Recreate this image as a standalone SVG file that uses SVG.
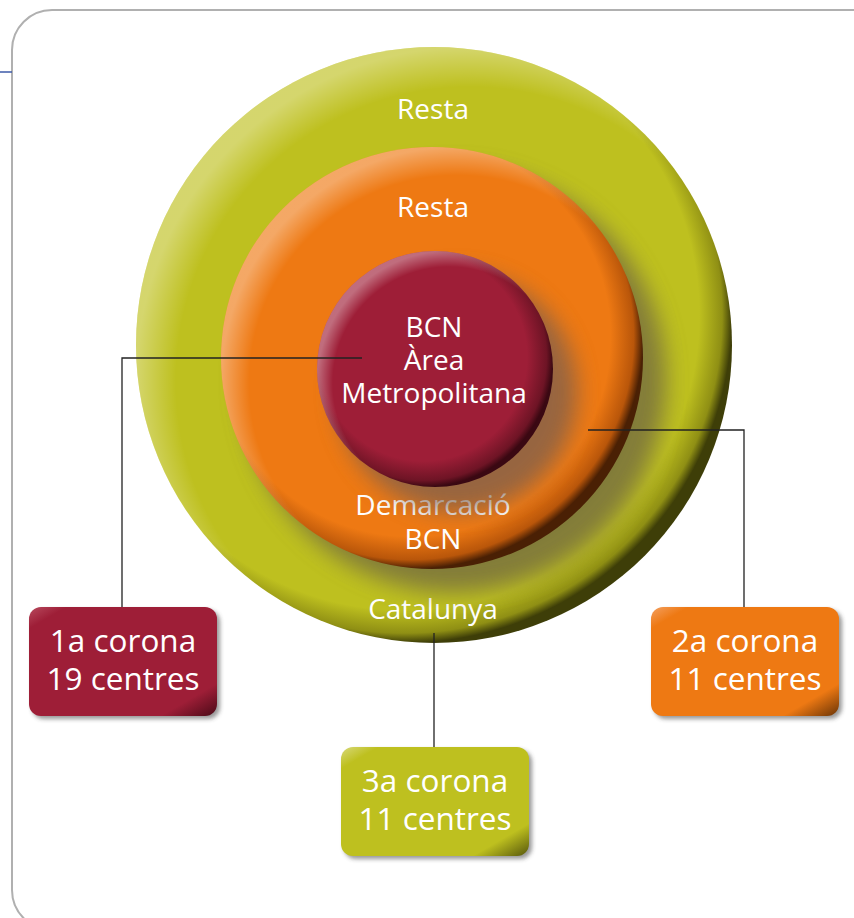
<svg xmlns="http://www.w3.org/2000/svg" width="854" height="918" viewBox="0 0 854 918">
<style>
.lbl{font-family:"Open Sans","Noto Sans",sans-serif;fill:#fff;text-anchor:middle}
.c{font-size:28px}
.b{font-size:31.5px}
.conn{fill:none;stroke:#222;stroke-width:1.3}
</style>
<defs>
<filter id="sh" x="-20%" y="-20%" width="150%" height="150%"><feGaussianBlur stdDeviation="11"/></filter>
<filter id="bsh" x="-20%" y="-20%" width="140%" height="140%"><feGaussianBlur stdDeviation="2"/></filter>
<radialGradient id="gG" cx="0.45" cy="0.45" r="0.55">
<stop offset="0.9" stop-color="#bec01f"/><stop offset="0.97" stop-color="#8f8f14"/><stop offset="1" stop-color="#3e3e08"/>
</radialGradient>
<radialGradient id="gO" cx="0.45" cy="0.45" r="0.55">
<stop offset="0.86" stop-color="#ee7913"/><stop offset="0.96" stop-color="#b9560a"/><stop offset="1" stop-color="#4a2004"/>
</radialGradient>
<radialGradient id="gR" cx="0.45" cy="0.45" r="0.55">
<stop offset="0.8" stop-color="#9e1e37"/><stop offset="0.95" stop-color="#6e1425"/><stop offset="1" stop-color="#3a0812"/>
</radialGradient>
<radialGradient id="hi" cx="0.56" cy="0.56" r="0.56">
<stop offset="0.88" stop-color="#fff" stop-opacity="0"/><stop offset="1" stop-color="#fff" stop-opacity="0.35"/>
</radialGradient>
<linearGradient id="bR" x1="0" y1="0" x2="1" y2="1"><stop offset="0" stop-color="#b84a5e"/><stop offset="0.1" stop-color="#9e1e37"/><stop offset="0.85" stop-color="#9e1e37"/><stop offset="1" stop-color="#4a0a17"/></linearGradient>
<linearGradient id="bO" x1="0" y1="0" x2="1" y2="1"><stop offset="0" stop-color="#f4a060"/><stop offset="0.1" stop-color="#ee7913"/><stop offset="0.85" stop-color="#ee7913"/><stop offset="1" stop-color="#6a3406"/></linearGradient>
<linearGradient id="bG" x1="0" y1="0" x2="1" y2="1"><stop offset="0" stop-color="#d8d97a"/><stop offset="0.1" stop-color="#bec01f"/><stop offset="0.85" stop-color="#bec01f"/><stop offset="1" stop-color="#56560c"/></linearGradient>
</defs>
<rect width="854" height="918" fill="#fff"/>
<rect x="12" y="10" width="880" height="920" rx="40" fill="#fff" stroke="#b0b0b0" stroke-width="2"/>
<line x1="0" y1="72" x2="12" y2="72" stroke="#3d5aa8" stroke-width="1.5"/>

<g id="ring3">
<circle cx="434" cy="345" r="298" fill="url(#gG)"/>
<circle cx="434" cy="345" r="298" fill="url(#hi)"/>
<text class="lbl c" x="433" y="119">Resta</text>
<text class="lbl c" x="433" y="619">Catalunya</text>
</g>
<g id="ring2">
<circle cx="454" cy="380" r="212" fill="#6b6045" opacity="0.7" filter="url(#sh)"/>
<circle cx="432" cy="358" r="211" fill="url(#gO)"/>
<circle cx="432" cy="358" r="211" fill="url(#hi)"/>
<text class="lbl c" x="433" y="217">Resta</text>
<text class="lbl c" x="433" y="515">Demarcació</text>
<text class="lbl c" x="433" y="549">BCN</text>
</g>
<g id="ring1">
<circle cx="457" cy="392" r="120" fill="#7a5f50" opacity="0.75" filter="url(#sh)"/>
<circle cx="435" cy="369" r="118" fill="url(#gR)"/>
<circle cx="435" cy="369" r="118" fill="url(#hi)"/>
<text class="lbl c" x="434" y="337">BCN</text>
<text class="lbl c" x="434" y="370">Àrea</text>
<text class="lbl c" x="434" y="403">Metropolitana</text>
</g>

<g id="connectors">
<polyline class="conn" points="362,358 122,358 122,607"/>
<polyline class="conn" points="588,430 744,430 744,607"/>
<polyline class="conn" points="434,633 434,747"/>
</g>

<g id="box1">
<rect x="32" y="610" width="188" height="109" rx="12" fill="#333" opacity="0.5" filter="url(#bsh)"/>
<rect x="29" y="607" width="188" height="109" rx="12" fill="url(#bR)"/>
<text class="lbl b" x="123" y="652">1a corona</text>
<text class="lbl b" x="123" y="690">19 centres</text>
</g>
<g id="box2">
<rect x="654" y="610" width="188" height="109" rx="12" fill="#333" opacity="0.5" filter="url(#bsh)"/>
<rect x="651" y="607" width="188" height="109" rx="12" fill="url(#bO)"/>
<text class="lbl b" x="745" y="652">2a corona</text>
<text class="lbl b" x="745" y="690">11 centres</text>
</g>
<g id="box3">
<rect x="344" y="750" width="188" height="109" rx="12" fill="#333" opacity="0.5" filter="url(#bsh)"/>
<rect x="341" y="747" width="188" height="109" rx="12" fill="url(#bG)"/>
<text class="lbl b" x="435" y="792">3a corona</text>
<text class="lbl b" x="435" y="830">11 centres</text>
</g>
</svg>
